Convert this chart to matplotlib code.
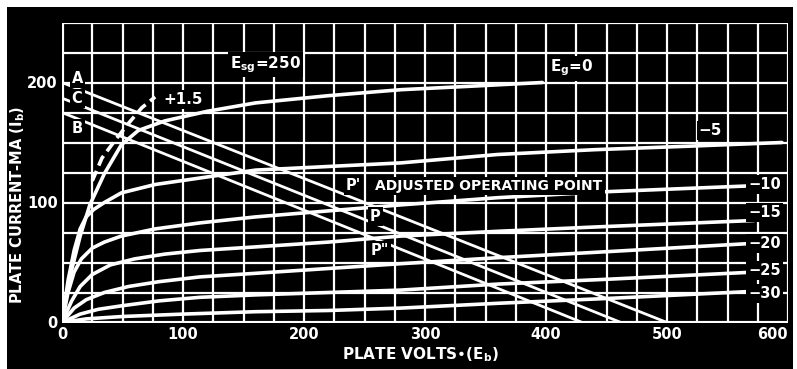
import matplotlib
matplotlib.use("Agg")
import matplotlib.pyplot as plt
from matplotlib.patches import Rectangle

plt.rcParams['font.family'] = ['DejaVu Sans']
plt.rcParams['font.weight'] = 'bold'
plt.rcParams['mathtext.fontset'] = 'dejavusans'
plt.rcParams['mathtext.default'] = 'bf'

# data - plate characteristics (plate volts, plate current mA)
v_eg0 = [0, 4, 8, 15, 23, 35, 49, 63, 85, 120, 160, 220, 280, 340, 397]
i_eg0 = [0, 25, 44, 72, 98, 124, 148, 160, 168, 176, 183, 189, 194, 197, 200]

v_eg5 = [0, 5, 10, 15, 20, 26, 35, 49, 77, 118, 160, 220, 280, 360, 440, 520, 595]
i_eg5 = [0, 35, 60, 78, 88, 94, 100, 108, 115, 121, 127, 130, 133, 140, 144, 147, 150]

v_eg10 = [0, 5, 10, 16, 25, 35, 49, 77, 114, 160, 220, 280, 360, 450, 572]
i_eg10 = [0, 25, 42, 53, 62, 67, 72, 78, 83, 88, 93, 98, 104, 109, 114]

v_eg15 = [0, 8, 15, 25, 40, 60, 85, 114, 160, 220, 280, 360, 450, 572]
i_eg15 = [0, 18, 30, 40, 48, 53, 57, 60, 63, 67, 72, 76, 80, 85]

v_eg20 = [0, 10, 20, 35, 55, 80, 114, 160, 220, 280, 360, 450, 572]
i_eg20 = [0, 12, 19, 25, 30, 34, 38, 41, 45, 49, 54, 59, 66]

v_eg25 = [0, 15, 30, 50, 80, 114, 160, 220, 280, 360, 450, 572]
i_eg25 = [0, 7, 11, 14, 18, 21, 23, 25, 27, 32, 36, 42]

v_eg30 = [0, 20, 50, 100, 160, 220, 280, 360, 450, 572]
i_eg30 = [0, 3, 5, 7, 9, 10, 12, 16, 20, 26]

# +1.5 V grid (dashed)
v_pos = [25, 33, 44, 55, 66, 77]
i_pos = [118, 137, 152, 166, 179, 188]

# load lines A, C, B  (start current at 0 V, end voltage at 0 mA)
load_start = [200, 187, 175]
load_end = [500, 462, 430]

x_ticks = [0, 100, 200, 300, 400, 500, 600]
y_ticks = [0, 100, 200]

W, H = 797, 369
fig = plt.figure(figsize=(W / 100, H / 100), dpi=100)
fig.patch.set_facecolor('white')
fig.patches.append(Rectangle((7 / W, 0), 786 / W, 362 / H, transform=fig.transFigure,
                             facecolor='black', edgecolor='none', zorder=-5))

ax = fig.add_axes([62 / W, 46.5 / H, 726 / W, 300 / H])
ax.set_facecolor('black')
ax.set_xlim(0, 600)
ax.set_ylim(0, 250)

# grid every 25
for gx in range(0, 625, 25):
    ax.axvline(gx, color='white', lw=1.6, zorder=1)
for gy in range(0, 275, 25):
    ax.axhline(gy, color='white', lw=1.6, zorder=1)
for sp in ax.spines.values():
    sp.set_visible(False)
ax.axvline(0, color='white', lw=3, zorder=2)
ax.axhline(0, color='white', lw=3, zorder=2)

curves = [(v_eg0, i_eg0), (v_eg5, i_eg5), (v_eg10, i_eg10), (v_eg15, i_eg15),
          (v_eg20, i_eg20), (v_eg25, i_eg25), (v_eg30, i_eg30)]
for v, i in curves:
    ax.plot(v, i, color='white', lw=2.6, solid_joinstyle='round', solid_capstyle='round', zorder=3)

ax.plot(v_pos, i_pos, color='white', lw=2.6, ls=(0, (3, 1.6)), zorder=3)

for s, e in zip(load_start, load_end):
    ax.plot([0, e], [s, 0], color='white', lw=2.0, zorder=3)

ax.set_xticks(x_ticks)
ax.set_yticks(y_ticks)
ax.set_xticklabels([str(t) for t in x_ticks])
ax.set_yticklabels([str(t) for t in y_ticks])
ax.tick_params(length=0, colors='white', labelsize=10.5, pad=3)
for lab in ax.get_xticklabels() + ax.get_yticklabels():
    lab.set_fontweight('bold')
ax.get_xticklabels()[-1].set_horizontalalignment('right')

box = dict(facecolor='black', edgecolor='none', pad=1.5)
kw = dict(color='white', fontweight='bold', zorder=5, va='center')
ax.text(168, 215, 'E$_{sg}$=250', ha='center', fontsize=11, bbox=box, **kw)
ax.text(421, 212, 'E$_{g}$=0', ha='center', fontsize=11, bbox=box, **kw)
ax.text(100, 186, '+1.5', ha='center', fontsize=11, bbox=box, **kw)
ax.text(13, 203, 'A', ha='center', fontsize=10.5, bbox=box, **kw)
ax.text(12.5, 187, 'C', ha='center', fontsize=10.5, bbox=box, **kw)
ax.text(12.5, 162, 'B', ha='center', fontsize=10.5, bbox=box, **kw)
ax.text(241, 114, "P'", ha='center', fontsize=10.5, bbox=box, **kw)
ax.text(259, 114, 'ADJUSTED OPERATING POINT', ha='left', fontsize=10, bbox=box, **kw)
ax.text(259, 88, 'P', ha='center', fontsize=10.5, bbox=box, **kw)
ax.text(263, 60, 'P"', ha='center', fontsize=10.5, bbox=box, **kw)
ax.text(536, 160, '\u22125', ha='center', fontsize=11, bbox=box, **kw)

grid_labels = ['\u221210', '\u221215', '\u221220', '\u221225', '\u221230']
grid_label_y = [115, 92, 66, 43, 24]
for t, y in zip(grid_labels, grid_label_y):
    ax.text(594, y, t, ha='right', fontsize=10.5, bbox=box, **kw)

fig.text(18 / W, 1 - 205 / H, 'PLATE CURRENT-MA (I$_{b}$)', rotation=90, ha='center', va='center',
         color='white', fontsize=10.5, fontweight='bold')
fig.text(420 / W, 1 - 355 / H, 'PLATE VOLTS\u2022(E$_{b}$)', ha='center', va='center',
         color='white', fontsize=11, fontweight='bold')

fig.savefig('out.png', dpi=100, facecolor=fig.get_facecolor())
